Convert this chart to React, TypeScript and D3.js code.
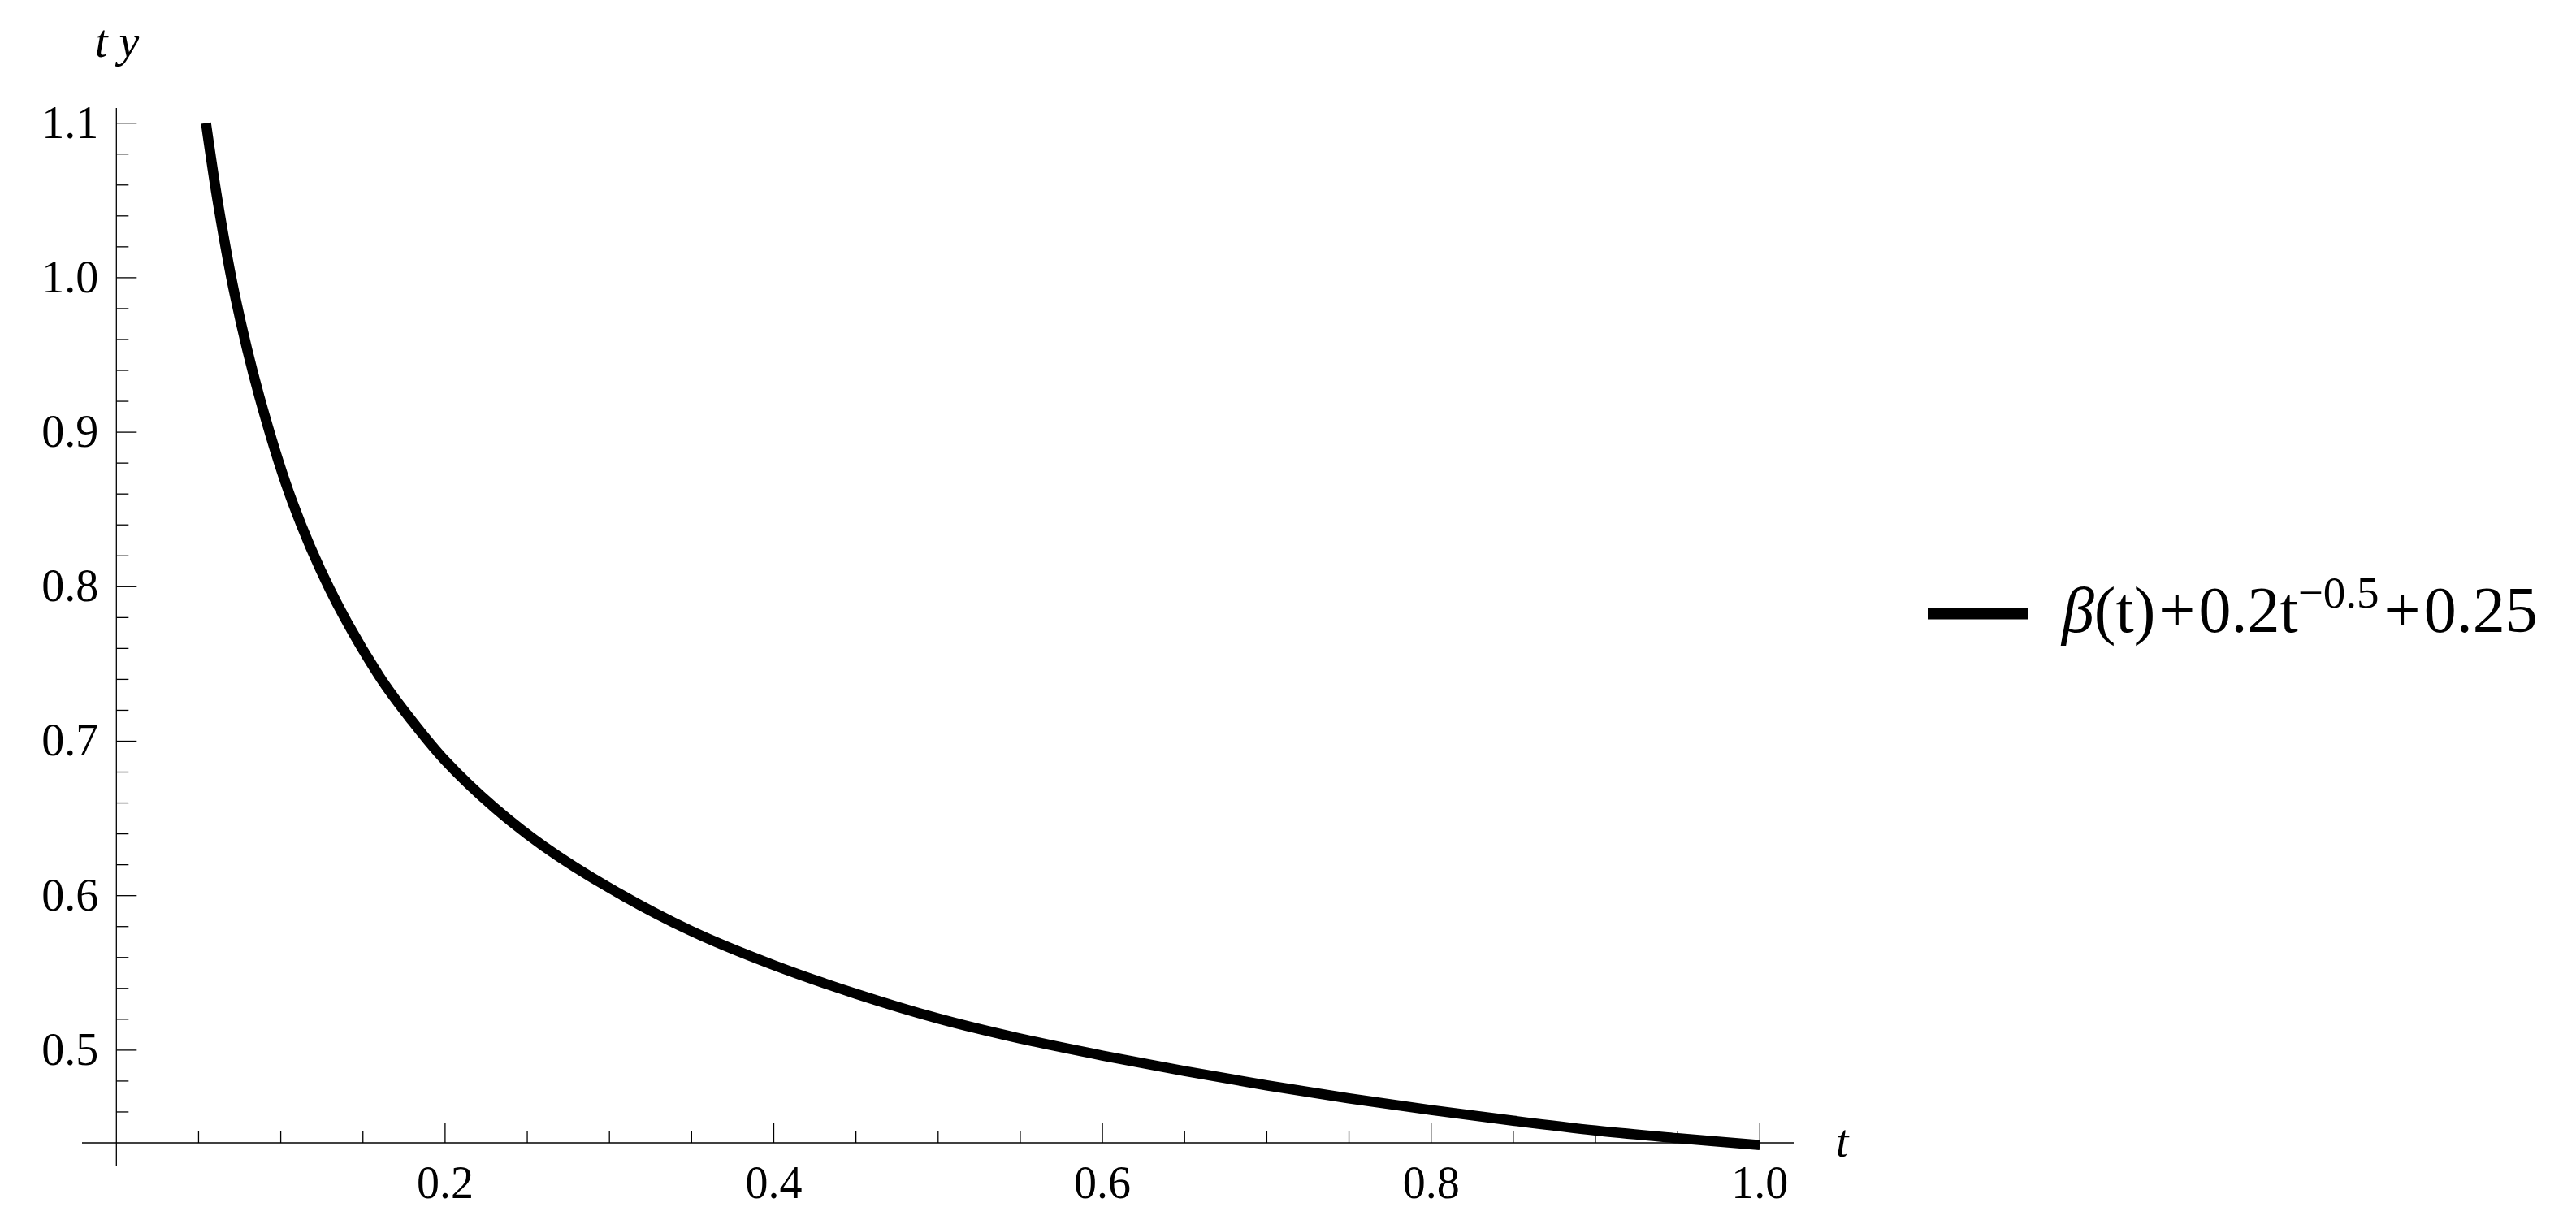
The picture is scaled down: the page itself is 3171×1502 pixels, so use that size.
import React from "react"
import * as d3 from "d3"

// curve values
const tValues = [0.0545, 0.062, 0.072, 0.087, 0.107, 0.13, 0.16, 0.18, 0.2, 0.23, 0.26, 0.3, 0.35, 0.4, 0.45, 0.5,
    0.55, 0.6, 0.65, 0.7, 0.75, 0.8, 0.85, 0.9, 0.95, 1.0]
const yValues = [1.1, 1.047, 0.989, 0.923, 0.855, 0.798, 0.742, 0.713, 0.6875, 0.657, 0.632, 0.605, 0.577, 0.555, 0.5365, 0.5205,
    0.5075, 0.4965, 0.4865, 0.4772, 0.4688, 0.4612, 0.4543, 0.448, 0.443, 0.4385]

const xMajorTicks = [0.2, 0.4, 0.6, 0.8, 1.0]
const xMinorTicks = [0.05, 0.1, 0.15, 0.25, 0.3, 0.35, 0.45, 0.5, 0.55, 0.65, 0.7, 0.75, 0.85, 0.9, 0.95]
const yMajorTicks = [0.5, 0.6, 0.7, 0.8, 0.9, 1.0, 1.1]
const yMinorTicks = [0.46, 0.48, 0.52, 0.54, 0.56, 0.58, 0.62, 0.64, 0.66, 0.68, 0.72, 0.74, 0.76, 0.78,
    0.82, 0.84, 0.86, 0.88, 0.92, 0.94, 0.96, 0.98, 1.02, 1.04, 1.06, 1.08]

const W = 3171
const H = 1502
const FONT = '"Liberation Serif", "Times New Roman", Times, serif'

const App = () => {
    const x = d3.scaleLinear().domain([0, 1]).range([143.3, 2166.3])
    const y = d3.scaleLinear().domain([0.44, 1.1]).range([1407, 151.7])

    const line = d3.line<number>()
        .x((_, i) => x(tValues[i]))
        .y(d => y(d))
        .curve(d3.curveCatmullRom.alpha(0.5))

    const axisY = y(0.44)
    const axisX = x(0)

    return (
        <svg width={W} height={H} viewBox={`0 0 ${W} ${H}`}
             style={{position: "absolute", left: 0, top: 0, background: "#fff", fontFamily: FONT}}>
            <rect width={W} height={H} fill="#fff"/>

            {/* x axis */}
            <g stroke="#000" strokeWidth={1.3}>
                <line x1={101} x2={2208} y1={axisY} y2={axisY}/>
                {xMajorTicks.map(t => (
                    <line key={"xM" + t} x1={x(t)} x2={x(t)} y1={axisY} y2={axisY - 25}/>
                ))}
                {xMinorTicks.map(t => (
                    <line key={"xm" + t} x1={x(t)} x2={x(t)} y1={axisY} y2={axisY - 15}/>
                ))}
            </g>
            <g fontSize={56} textAnchor="middle" fill="#000" style={{fontFamily: FONT}}>
                {xMajorTicks.map(t => (
                    <text key={"xl" + t} x={x(t)} y={axisY + 68}>{d3.format(".1f")(t)}</text>
                ))}
            </g>
            <text x={2260} y={1424} fontSize={56} fontStyle="italic" style={{fontFamily: FONT}}>t</text>

            {/* y axis */}
            <g stroke="#000" strokeWidth={1.3}>
                <line x1={axisX} x2={axisX} y1={133} y2={1436}/>
                {yMajorTicks.map(v => (
                    <line key={"yM" + v} x1={axisX} x2={axisX + 25} y1={y(v)} y2={y(v)}/>
                ))}
                {yMinorTicks.map(v => (
                    <line key={"ym" + v} x1={axisX} x2={axisX + 15} y1={y(v)} y2={y(v)}/>
                ))}
            </g>
            <g fontSize={56} textAnchor="end" fill="#000" style={{fontFamily: FONT}}>
                {yMajorTicks.map(v => (
                    <text key={"yl" + v} x={axisX - 22} y={y(v) + 18}>{d3.format(".1f")(v)}</text>
                ))}
            </g>
            <text x={117} y={70} fontSize={56} fontStyle="italic" style={{fontFamily: FONT, whiteSpace: "pre"}}>t y</text>

            {/* curve */}
            <path d={line(yValues) || ""} fill="none" stroke="#000" strokeWidth={12.5}/>

            {/* legend */}
            <line x1={2373} x2={2497} y1={755.5} y2={755.5} stroke="#000" strokeWidth={14}/>
            <text x={2538} y={778} fontSize={80} fill="#000" style={{fontFamily: FONT}}>
                <tspan fontStyle="italic">β</tspan>
                <tspan>(t)</tspan>
                <tspan dx={4}>+</tspan>
                <tspan dx={4}>0.2t</tspan>
                <tspan fontSize={55} dy={-30}>−0.5</tspan>
                <tspan dy={30} dx={6}>+</tspan>
                <tspan dx={4}>0.25</tspan>
            </text>
        </svg>
    )
}

export default App
